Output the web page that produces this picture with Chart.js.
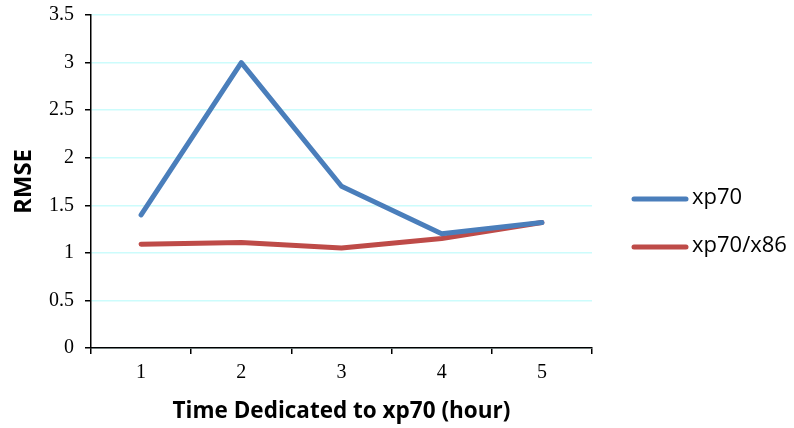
<!DOCTYPE html>
<html>
<head>
<meta charset="utf-8">
<script src="https://cdn.jsdelivr.net/npm/chart.js@4.4.0/dist/chart.umd.min.js"></script>
<style>
html,body{margin:0;padding:0;background:#fff;}
#wrap{width:794px;height:428px;position:relative;}
</style>
</head>
<body>
<div id="wrap"><canvas id="c" width="794" height="428"></canvas></div>
<script>
const categories = ["1", "2", "3", "4", "5"];
const xp70 = [1.40, 3.00, 1.70, 1.20, 1.32];
const xp70x86 = [1.09, 1.11, 1.05, 1.15, 1.32];
const seriesNames = ["xp70", "xp70/x86"];
const seriesColors = ["#4a7ebb", "#be4b48"];
const yTicks = {min: 0, max: 3.5, step: 0.5};

const SANS = '"Open Sans", Lato, sans-serif';
const SERIF = '"Liberation Serif", "Times New Roman", serif';

const legendPlugin = {
  id: 'customLegend',
  afterDraw(chart) {
    const ctx = chart.ctx;
    const x0 = 634, x1 = 686, tx = 692;
    const ys = [199, 247];
    chart.data.datasets.forEach((ds, i) => {
      ctx.save();
      ctx.strokeStyle = ds.borderColor;
      ctx.lineWidth = 5;
      ctx.lineCap = 'round';
      ctx.beginPath();
      ctx.moveTo(x0, ys[i]);
      ctx.lineTo(x1, ys[i]);
      ctx.stroke();
      ctx.fillStyle = '#000';
      ctx.font = '22px ' + SANS;
      ctx.textBaseline = 'middle';
      ctx.textAlign = 'left';
      ctx.fillText(ds.label, tx, ys[i] - 1);
      ctx.restore();
    });
  }
};

new Chart(document.getElementById('c'), {
  type: 'line',
  data: {
    labels: categories,
    datasets: [
      {label: seriesNames[0], data: xp70, borderColor: seriesColors[0], backgroundColor: seriesColors[0]},
      {label: seriesNames[1], data: xp70x86, borderColor: seriesColors[1], backgroundColor: seriesColors[1]}
    ]
  },
  options: {
    responsive: false,
    animation: false,
    devicePixelRatio: 1,
    layout: {padding: {top: 15, right: 202, left: 0, bottom: 0}},
    elements: {
      line: {borderWidth: 5, tension: 0, borderCapStyle: 'round', borderJoinStyle: 'round'},
      point: {radius: 0, hoverRadius: 0}
    },
    plugins: {legend: {display: false}, tooltip: {enabled: false}},
    scales: {
      x: {
        offset: true,
        grid: {offset: true, drawOnChartArea: false, color: '#000', tickColor: '#000', tickLength: 6, lineWidth: 1.5},
        border: {color: '#000', width: 1.5},
        ticks: {color: '#000', font: {family: SERIF, size: 20}, padding: 7, maxRotation: 0},
        title: {display: true, text: 'Time Dedicated to xp70 (hour)', color: '#000', font: {family: SANS, size: 22.5, weight: 'bold'}, padding: {top: 4, bottom: 3}},
        afterFit(scale) { scale.height = 80; scale.paddingLeft = 0; scale.paddingRight = 0; }
      },
      y: {
        min: yTicks.min, max: yTicks.max,
        ticks: {stepSize: yTicks.step, color: '#000', font: {family: SERIF, size: 20}, padding: 11,
          callback: (v) => String(Number(v))},
        grid: {color: '#ccfcfc', tickColor: '#000', tickLength: 6, lineWidth: 1.5},
        border: {color: '#000', width: 1.5},
        title: {display: true, text: 'RMSE', color: '#000', font: {family: SANS, size: 24, weight: 'bold'}, padding: {top: 10, bottom: 4}},
        afterFit(scale) { scale.width = 91; scale.paddingTop = 0; scale.paddingBottom = 0; }
      }
    }
  },
  plugins: [legendPlugin]
});
</script>
</body>
</html>
